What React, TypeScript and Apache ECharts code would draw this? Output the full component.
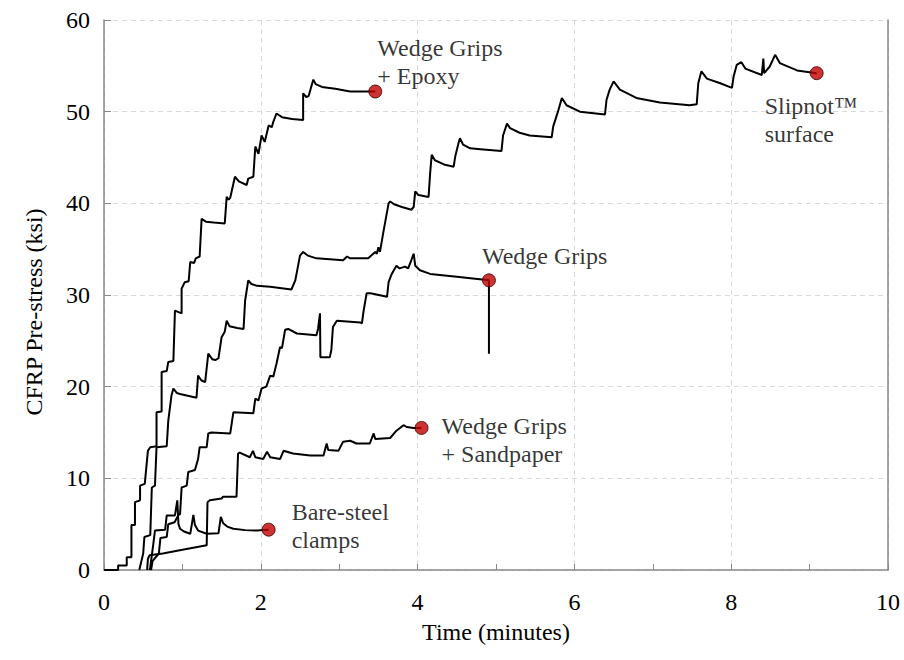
import React, { useEffect, useRef } from "react";
import * as echarts from "echarts";

// ---- data (time in minutes, pre-stress in ksi) ----
const epoxy: [number, number][] = [
  [0, 0], [0.18, 0], [0.18, 0.5], [0.29, 0.5], [0.29, 1.4], [0.35, 1.4], [0.35, 4.9], [0.395, 4.9],
  [0.395, 7.4], [0.46, 7.6], [0.46, 9.2], [0.52, 9.4], [0.56, 13.0], [0.59, 13.4], [0.67, 13.5],
  [0.67, 17.2], [0.735, 17.3], [0.735, 21.6], [0.8, 21.7], [0.82, 22.7], [0.885, 22.8], [0.905, 28.3],
  [0.99, 28.0], [0.99, 30.7], [1.03, 31.4], [1.08, 31.5], [1.1, 33.6], [1.15, 33.5], [1.17, 34.0],
  [1.22, 34.2], [1.245, 38.3], [1.3, 38.0], [1.4, 37.9], [1.54, 37.8], [1.565, 40.7], [1.59, 40.4],
  [1.61, 40.6], [1.67, 42.9], [1.72, 42.4], [1.82, 42.0], [1.84, 42.7], [1.905, 42.9], [1.93, 46.2],
  [1.97, 45.4], [2.01, 47.4], [2.05, 46.7], [2.1, 48.5], [2.14, 48.3], [2.16, 48.9], [2.2, 49.8],
  [2.27, 49.4], [2.4, 49.2], [2.54, 49.1], [2.54, 52.0], [2.58, 51.6], [2.61, 51.7], [2.67, 53.5],
  [2.7, 53.0], [2.78, 52.7], [2.95, 52.5], [3.14, 52.2], [3.46, 52.2],
];

const slipnot: [number, number][] = [
  [0.45, 0], [0.5, 1.8], [0.515, 3.6], [0.59, 3.8], [0.61, 9.0], [0.65, 9.2], [0.67, 13.4],
  [0.8, 13.5], [0.82, 16.3], [0.86, 19.0], [0.885, 19.8], [0.93, 19.3], [0.97, 19.2], [1.18, 18.8],
  [1.2, 21.2], [1.24, 20.7], [1.29, 20.5], [1.33, 23.6], [1.38, 23.0], [1.42, 22.9], [1.46, 23.1],
  [1.5, 25.4], [1.54, 26.0], [1.565, 27.2], [1.6, 26.6], [1.7, 26.4], [1.78, 26.3], [1.8, 29.4],
  [1.84, 31.6], [1.88, 31.2], [1.95, 31.0], [2.12, 30.9], [2.39, 30.6], [2.44, 31.6], [2.5, 34.3],
  [2.54, 34.7], [2.6, 34.3], [2.71, 34.0], [3.05, 33.8], [3.1, 34.2], [3.14, 34.0], [3.37, 34.0],
  [3.46, 34.7], [3.48, 34.5], [3.5, 35.2], [3.52, 34.7], [3.56, 36.7], [3.63, 40.0], [3.65, 40.2],
  [3.7, 39.9], [3.8, 39.6], [3.92, 39.3], [3.95, 39.6], [3.97, 41.3], [4.01, 40.9], [4.14, 40.7],
  [4.16, 43.3], [4.18, 45.3], [4.22, 44.7], [4.35, 44.2], [4.46, 44.0], [4.48, 45.1], [4.52, 46.5],
  [4.54, 47.1], [4.58, 46.4], [4.67, 46.0], [4.8, 45.9], [5.07, 45.7], [5.09, 47.4], [5.14, 48.7],
  [5.18, 48.2], [5.3, 47.7], [5.43, 47.4], [5.71, 47.2], [5.73, 48.4], [5.79, 50.0], [5.84, 51.5],
  [5.9, 50.7], [6.07, 50.0], [6.39, 49.7], [6.41, 51.3], [6.45, 52.4], [6.5, 53.3], [6.58, 52.4],
  [6.79, 51.5], [7.09, 51.0], [7.47, 50.7], [7.56, 50.8], [7.58, 53.1], [7.62, 54.4], [7.69, 53.6],
  [7.86, 53.1], [8.01, 52.6], [8.03, 53.8], [8.07, 55.1], [8.13, 55.4], [8.18, 54.7], [8.39, 54.0],
  [8.41, 55.8], [8.42, 54.2], [8.49, 54.9], [8.56, 56.2], [8.62, 55.3], [8.84, 54.5], [9.09, 54.2],
];

const wedge: [number, number][] = [
  [0.6, 0], [0.62, 1.0], [0.7, 1.8], [0.72, 3.5], [0.8, 3.6], [0.82, 5.0], [0.9, 5.2], [0.95, 6.0],
  [0.97, 6.1], [0.99, 9.0], [1.055, 9.2], [1.075, 10.7], [1.16, 10.9], [1.2, 12.1], [1.22, 13.4],
  [1.31, 13.4], [1.33, 14.9], [1.37, 15.0], [1.61, 14.9], [1.65, 17.2], [1.905, 17.1], [1.93, 18.7],
  [1.97, 18.5], [2.01, 19.8], [2.07, 20.0], [2.12, 21.2], [2.16, 21.1], [2.2, 22.5], [2.245, 24.3],
  [2.27, 24.2], [2.31, 26.2], [2.35, 26.3], [2.46, 25.8], [2.71, 25.6], [2.73, 26.3], [2.755, 28.0],
  [2.76, 23.2], [2.88, 23.2], [2.9, 24.0], [2.92, 26.5], [2.97, 27.2], [3.27, 27.0], [3.29, 26.9],
  [3.31, 28.2], [3.35, 30.2], [3.4, 30.2], [3.61, 29.8], [3.63, 31.4], [3.67, 32.3], [3.73, 33.2],
  [3.77, 32.9], [3.84, 33.1], [3.88, 32.9], [3.92, 33.8], [3.95, 34.5], [3.97, 33.2], [4.03, 32.7],
  [4.16, 32.3], [4.5, 32.0], [4.91, 31.6], [4.91, 23.6],
];

const sandpaper: [number, number][] = [
  [0.55, 0], [0.56, 1.2], [0.58, 1.6], [0.75, 1.8], [1.0, 2.2], [1.31, 2.7], [1.32, 7.4], [1.35, 7.6],
  [1.5, 7.8], [1.52, 8.0], [1.69, 8.0], [1.71, 12.7], [1.73, 12.8], [1.86, 12.3], [1.9, 13.0],
  [1.93, 12.3], [2.03, 12.1], [2.08, 12.9], [2.12, 12.3], [2.245, 12.1], [2.29, 13.0], [2.41, 12.7],
  [2.63, 12.5], [2.8, 12.5], [2.84, 13.8], [2.86, 13.1], [2.99, 13.0], [3.05, 14.0], [3.14, 14.1],
  [3.22, 13.8], [3.39, 13.8], [3.44, 14.9], [3.46, 14.3], [3.65, 14.4], [3.73, 15.2], [3.82, 15.8],
  [3.86, 15.6], [3.95, 15.5], [4.05, 15.5],
];

const bareSteel: [number, number][] = [
  [0.58, 0], [0.59, 0.3], [0.63, 2.9], [0.65, 4.3], [0.78, 4.4], [0.8, 5.95], [0.905, 5.95],
  [0.935, 7.6], [0.95, 5.0], [0.97, 4.5], [1.02, 4.2], [1.1, 3.95], [1.14, 6.0], [1.16, 4.9],
  [1.2, 4.3], [1.31, 3.95], [1.46, 4.0], [1.49, 5.8], [1.52, 5.1], [1.58, 4.7], [1.65, 4.5],
  [1.8, 4.35], [1.95, 4.3], [2.1, 4.4],
];

const endMarkers: [number, number][] = [
  [3.46, 52.2], [9.09, 54.2], [4.91, 31.6], [4.05, 15.5], [2.1, 4.4],
];
const endLabels = [
  "Wedge Grips\n+ Epoxy",
  "Slipnot™\nsurface",
  "Wedge Grips",
  "Wedge Grips\n+ Sandpaper",
  "Bare-steel\nclamps",
];

const xAxisTitle = "Time (minutes)";
const yAxisTitle = "CFRP Pre-stress (ksi)";

const FONT = "'Liberation Serif', 'Times New Roman', serif";
const labelOffsets: [number, number][] = [
  [-5, -30], [-59, 47], [-14, -24], [13, 12], [16, -4],
];

export default function App() {
  const ref = useRef<HTMLDivElement>(null);
  useEffect(() => {
    if (!ref.current) return;
    const chart = echarts.init(ref.current, undefined, { renderer: "svg" });
    const curves = [epoxy, slipnot, wedge, sandpaper, bareSteel];
    const axisColor = "#898989";
    const gridColor = "#d9d9d9";
    chart.setOption({
      animation: false,
      backgroundColor: "#fff",
      textStyle: { fontFamily: FONT },
      grid: { left: 104, right: 16, top: 20, bottom: 90, containLabel: false },
      graphic: [
        {
          type: "text",
          x: 34,
          y: 312,
          rotation: Math.PI / 2,
          style: {
            text: yAxisTitle,
            fontSize: 24,
            fontFamily: FONT,
            fill: "#000",
            align: "center",
            verticalAlign: "middle",
          },
        },
      ],
      xAxis: {
        type: "value",
        min: 0,
        max: 10,
        interval: 2,
        name: xAxisTitle,
        nameLocation: "middle",
        nameGap: 50,
        nameTextStyle: { fontSize: 24, color: "#000", fontFamily: FONT },
        axisLine: { show: true, lineStyle: { color: axisColor, width: 1.5 } },
        axisTick: { show: true, inside: true, length: 6, lineStyle: { color: axisColor } },
        minorTick: { show: true, splitNumber: 2, length: 6, lineStyle: { color: axisColor } },
        axisLabel: { fontSize: 24, color: "#000", margin: 20, fontFamily: FONT },
        splitLine: { show: true, lineStyle: { color: gridColor, type: [5, 4], width: 1 } },
      },
      yAxis: [
        {
          type: "value",
          min: 0,
          max: 60,
          interval: 10,
          axisLine: { show: true, lineStyle: { color: axisColor, width: 1.5 } },
          axisTick: { show: true, inside: true, length: 7, lineStyle: { color: axisColor } },
          axisLabel: { fontSize: 24, color: "#000", margin: 14, fontFamily: FONT },
          splitLine: { show: true, lineStyle: { color: gridColor, type: [5, 4], width: 1 } },
        },
        {
          type: "value",
          min: 0,
          max: 60,
          interval: 10,
          position: "right",
          axisLine: { show: true, onZero: false, lineStyle: { color: axisColor, width: 1.5 } },
          axisTick: { show: false },
          axisLabel: { show: false },
          splitLine: { show: false },
        },
      ],
      series: [
        ...curves.map((d) => ({
          type: "line",
          data: d,
          showSymbol: false,
          symbol: "none",
          lineStyle: { color: "#000", width: 2 },
          z: 3,
          silent: true,
        })),
        {
          type: "scatter",
          z: 5,
          symbolSize: 13,
          itemStyle: { color: "#c00000", borderColor: "#3a0000", borderWidth: 1 },
          data: endMarkers.map((p, i) => ({
            value: p,
            label: {
              show: true,
              position: "right",
              distance: 0,
              offset: labelOffsets[i],
              formatter: endLabels[i],
              fontSize: 24,
              lineHeight: 28,
              color: "#000",
              fontFamily: FONT,
              align: "left",
              verticalAlign: "middle",
            },
          })),
        },
      ],
    });
    return () => chart.dispose();
  }, []);
  return (
    <div
      ref={ref}
      style={{ position: "fixed", left: 0, top: 0, width: 904, height: 660, background: "#fff" }}
    />
  );
}
